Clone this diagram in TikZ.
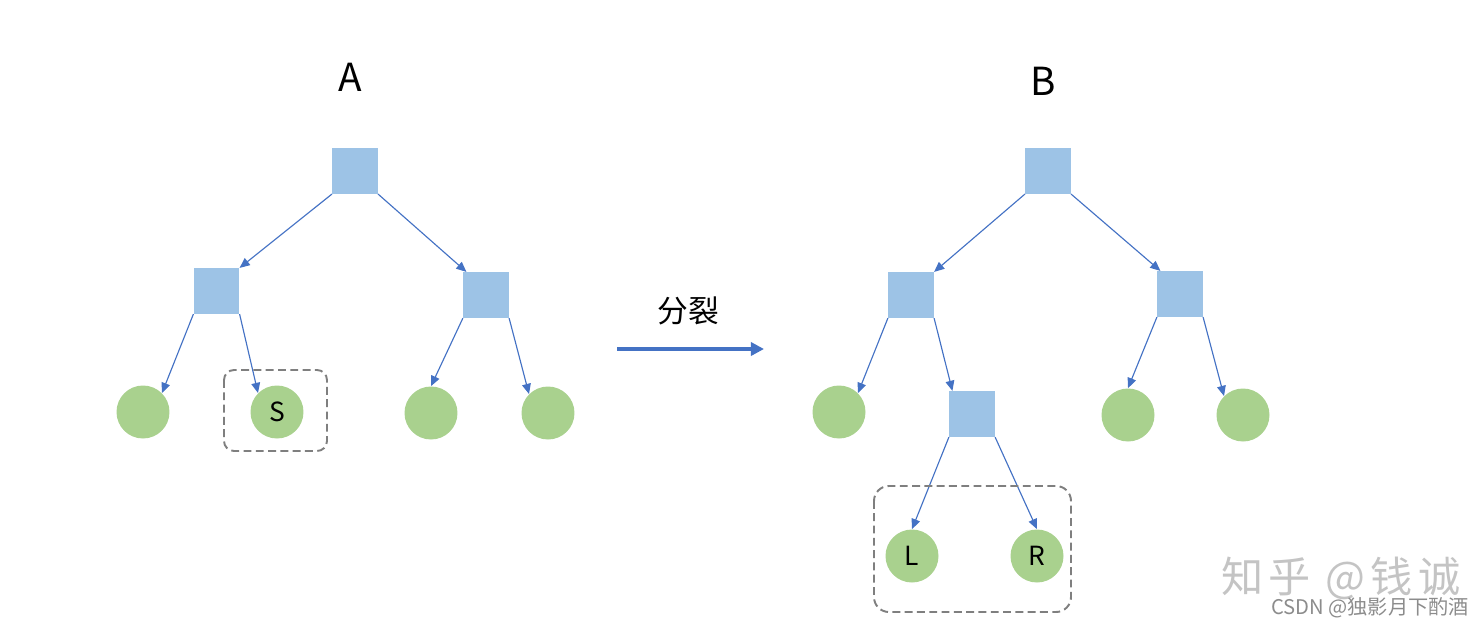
\documentclass[tikz,border=0pt]{standalone}
\usepackage{fontspec}
\setmainfont{Noto Sans CJK SC}
\usetikzlibrary{arrows.meta}
\definecolor{nodeblue}{HTML}{9DC3E6}
\definecolor{leafgreen}{HTML}{A9D18E}
\definecolor{linkblue}{HTML}{4472C4}
\definecolor{boxgray}{HTML}{7F7F7F}
\definecolor{markgray}{HTML}{C4C4C4}
\definecolor{csdngray}{HTML}{8C8C8C}
\begin{document}
\begin{tikzpicture}[x=0.02cm,y=-0.02cm,
  inner/.style={rectangle,fill=nodeblue,minimum size=0.91cm,inner sep=0pt},
  leaf/.style={circle,fill=leafgreen,minimum size=1.06cm,inner sep=0pt,
    font=\fontsize{15}{15}\selectfont},
  link/.style={draw=linkblue,line width=0.65pt,-{Triangle[length=5.8pt,width=5pt]}},
  group/.style={draw=boxgray,line width=1.1pt,dash pattern=on 4.5pt off 2.5pt},
  title/.style={font=\fontsize{22}{22}\selectfont}]
\useasboundingbox (0,0) rectangle (1482,626);
% tree A
\node[title] (ta) at (350,77) {A};
\node[inner] (a0) at (355,171) {};
\node[inner] (a1) at (216.5,291) {};
\node[inner] (a2) at (486,295) {};
\node[leaf] (a11) at (143,412) {};
\node[leaf] (a12) at (277,412) {S};
\node[leaf] (a21) at (431,413) {};
\node[leaf] (a22) at (548,413) {};
\draw[link] (a0.south west) -- (a1.north east);
\draw[link] (a0.south east) -- ([xshift=2pt]a2.north west);
\draw[link] (a1.south west) -- (a11.north east);
\draw[link] (a1.south east) -- (a12.north west);
\draw[link] (a2.south west) -- (a21.north);
\draw[link] (a2.south east) -- (a22.north west);
\draw[group,rounded corners=5.7pt] (224,370) rectangle (327,451);
% split
\coordinate (s1) at (617,349);
\coordinate (s2) at (764,349);
\draw[draw=linkblue,line width=2.3pt,-{Triangle[length=7.5pt,width=7.5pt]}] (s1) -- (s2);
\node[font=\fontsize{17.5}{17.5}\selectfont] (split) at (688,311) {分裂};
% tree B
\node[title] (tb) at (1043,81) {B};
\node[inner] (b0) at (1048,171) {};
\node[inner] (b1) at (911,295) {};
\node[inner] (b2) at (1180,294) {};
\node[leaf] (b11) at (839,412) {};
\node[inner] (b12) at (972,414) {};
\node[leaf] (b21) at (1128,415) {};
\node[leaf] (b22) at (1243,415) {};
\node[leaf] (b121) at (912,556) {L};
\node[leaf] (b122) at (1037,556) {R};
\draw[link] (b0.south west) -- (b1.north east);
\draw[link] (b0.south east) -- ([xshift=2pt]b2.north west);
\draw[link] (b1.south west) -- (b11.north east);
\draw[link] (b1.south east) -- ([xshift=2pt]b12.north west);
\draw[link] (b2.south west) -- (b21.north);
\draw[link] (b2.south east) -- (b22.north west);
\draw[link] (b12.south west) -- (b121.north);
\draw[link] (b12.south east) -- (b122.north);
\draw[group,rounded corners=8.5pt] (874,486) rectangle (1071,612);
% watermarks
\node[text=markgray,font=\fontsize{24}{24}\selectfont] (zhihu) at (1341,578)
  {知\hspace{3pt}乎\hspace{3pt} @\hspace{3pt}钱\hspace{3pt}诚};
\node[text=csdngray,font=\fontsize{11.5}{11.5}\selectfont] (csdn) at (1370,608)
  {CSDN @独影月下酌酒};
\end{tikzpicture}
\end{document}
